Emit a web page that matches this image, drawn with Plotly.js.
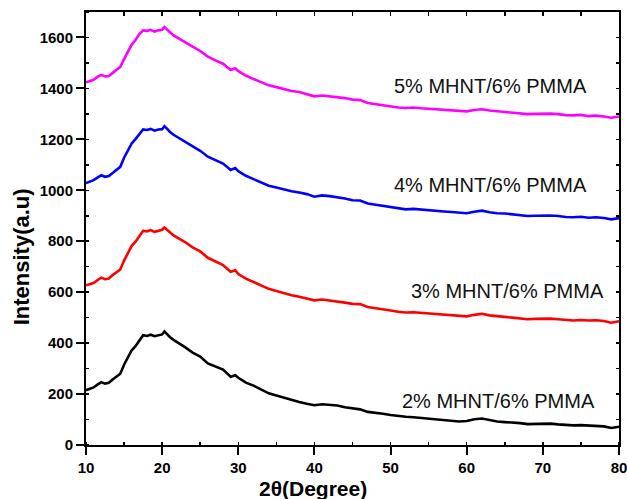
<!DOCTYPE html>
<html>
<head>
<meta charset="utf-8">
<script src="https://cdn.plot.ly/plotly-3.0.1.min.js"></script>
<style>html,body{margin:0;padding:0;background:#fff}#chart{width:627px;height:499px}</style>
</head>
<body>
<div id="chart"></div>
<script>
const twoTheta = [10,11,11.5,12,12.5,13,13.5,14,14.5,15,15.5,16,16.5,17,17.5,18,18.5,19,19.5,20,20.3,20.7,21,21.5,22,
  23,24,25,26,27,28,29,29.6,
  30,31,32,33,34,35,36,37,38,39,40,
  41,42,43,44,45,46,47,48,49,50,
  51,52,53,54,55,56,57,58,59,60,
  61,62,63,64,65,66,67,68,69,70,
  71,72,73,74,75,76,77,78,79,80];

const s2 = [215,226,237,247,241,244,257,270,280,315,345,372,388,411,431,428,433,427,431,434,446,433,424,413,404,
  384,363,347,320,308,296,268,274,
  264,245,233,218,203,194,185,176,169,162,156,
  160,157,155,148,143,140,130,127,123,118,
  114,111,109,106,104,100,97,95,92,94,
  101,104,97,92,90,89,86,82,83,84,
  84,81,79,77,78,77,76,73,67,72];

const s3 = [627,636,647,657,651,654,667,678,689,724,755,782,798,822,841,839,844,837,842,845,854,843,834,823,814,
  797,776,760,735,720,706,680,686,
  671,653,640,626,613,605,596,588,582,575,568,
  571,568,564,559,554,553,542,538,532,528,
  523,520,521,519,516,513,511,509,507,505,
  511,515,509,505,503,500,497,494,495,496,
  496,494,490,489,491,489,490,487,480,486];

const s4 = [1028,1040,1050,1059,1053,1056,1068,1080,1092,1128,1158,1184,1201,1222,1239,1237,1241,1234,1239,1240,1252,1240,1230,1218,1209,
  1193,1173,1155,1132,1117,1105,1080,1087,
  1075,1057,1044,1030,1018,1011,1003,996,991,985,975,
  980,977,974,968,961,960,948,943,938,933,
  928,925,927,924,921,918,917,915,913,910,
  916,920,914,910,909,905,902,899,900,901,
  901,899,895,894,896,892,894,891,886,891];

const s5 = [1424,1434,1445,1453,1447,1449,1461,1473,1484,1515,1545,1572,1590,1613,1628,1626,1630,1623,1628,1630,1641,1630,1620,1608,1599,
  1583,1564,1547,1525,1510,1497,1472,1479,
  1468,1450,1437,1424,1412,1405,1397,1390,1386,1378,1369,
  1372,1369,1366,1362,1356,1354,1343,1338,1333,1329,
  1325,1323,1325,1322,1320,1317,1315,1314,1312,1310,
  1315,1318,1313,1310,1309,1304,1301,1299,1300,1301,
  1301,1299,1295,1294,1296,1291,1293,1290,1285,1290];

const labels = ["2% MHNT/6% PMMA","3% MHNT/6% PMMA","4% MHNT/6% PMMA","5% MHNT/6% PMMA"];
const colors = ["#000000","#ff0000","#0000ff","#ff00ff"];
const series = [s2,s3,s4,s5];
const labelX = [64.15,65.4,63.1,63.1];
const labelY = [173,604,1022,1410];

const FONT = "Liberation Sans, Arial, Helvetica, sans-serif";

const traces = series.map((s,i)=>({
  x: twoTheta, y: s, type:'scatter', mode:'lines', name: labels[i],
  line:{color: colors[i], width:2.6}, showlegend:false
}));
traces.push({x:[], y:[], xaxis:'x2', yaxis:'y2', type:'scatter', mode:'lines', showlegend:false});

const annotations = labels.map((t,i)=>({
  text:t, x:labelX[i], y:labelY[i], xref:'x', yref:'y', showarrow:false,
  xanchor:'center', yanchor:'middle', font:{family:FONT, size:20, color:'#111'}
}));
annotations.push({text:'2θ(Degree)', xref:'x', x:39.8, yref:'paper', y:0, yshift:-43,
  xanchor:'center', yanchor:'middle', showarrow:false,
  font:{family:FONT, size:21, color:'#000', weight:'bold'}});
annotations.push({text:'Intensity(a.u)', xref:'paper', x:0, xshift:-65, yref:'y', y:737,
  xanchor:'center', yanchor:'middle', textangle:-90, showarrow:false,
  font:{family:FONT, size:22, color:'#000', weight:'bold'}});

const layout = {
  width:627, height:499,
  margin:{l:86, r:8, t:12, b:54, pad:0},
  paper_bgcolor:'#fff', plot_bgcolor:'#fff',
  showlegend:false,
  xaxis:{range:[10,80], tick0:10, dtick:10, ticks:'outside', ticklen:8, tickwidth:2, tickcolor:'#000',
    showline:true, linewidth:2, linecolor:'#000', showgrid:false, zeroline:false,
    ticklabeloverflow:'allow',
    tickfont:{family:FONT, size:15, color:'#000', weight:'bold'},
    minor:{dtick:5, ticks:'inside', ticklen:3, tickwidth:1.5, tickcolor:'#000', showgrid:false}},
  yaxis:{range:[0,1700], tick0:0, dtick:200, ticks:'outside', ticklen:8, tickwidth:2, tickcolor:'#000',
    showline:true, linewidth:2, linecolor:'#000', showgrid:false, zeroline:false,
    tickfont:{family:FONT, size:15, color:'#000', weight:'bold'},
    minor:{dtick:100, ticks:'inside', ticklen:3, tickwidth:1.5, tickcolor:'#000', showgrid:false}},
  xaxis2:{overlaying:'x', side:'top', anchor:'y2', range:[10,80], tick0:10, dtick:5, ticks:'inside', ticklen:4,
    tickwidth:1.5, tickcolor:'#000', showticklabels:false, showline:true, linewidth:2, linecolor:'#000',
    showgrid:false, zeroline:false},
  yaxis2:{overlaying:'y', side:'right', anchor:'x2', range:[0,1700], tick0:0, dtick:100, ticks:'inside', ticklen:3,
    tickwidth:1.5, tickcolor:'#000', showticklabels:false, showline:true, linewidth:2, linecolor:'#000',
    showgrid:false, zeroline:false},
  annotations: annotations
};

Plotly.newPlot('chart', traces, layout, {staticPlot:true, displayModeBar:false});
</script>
</body>
</html>
